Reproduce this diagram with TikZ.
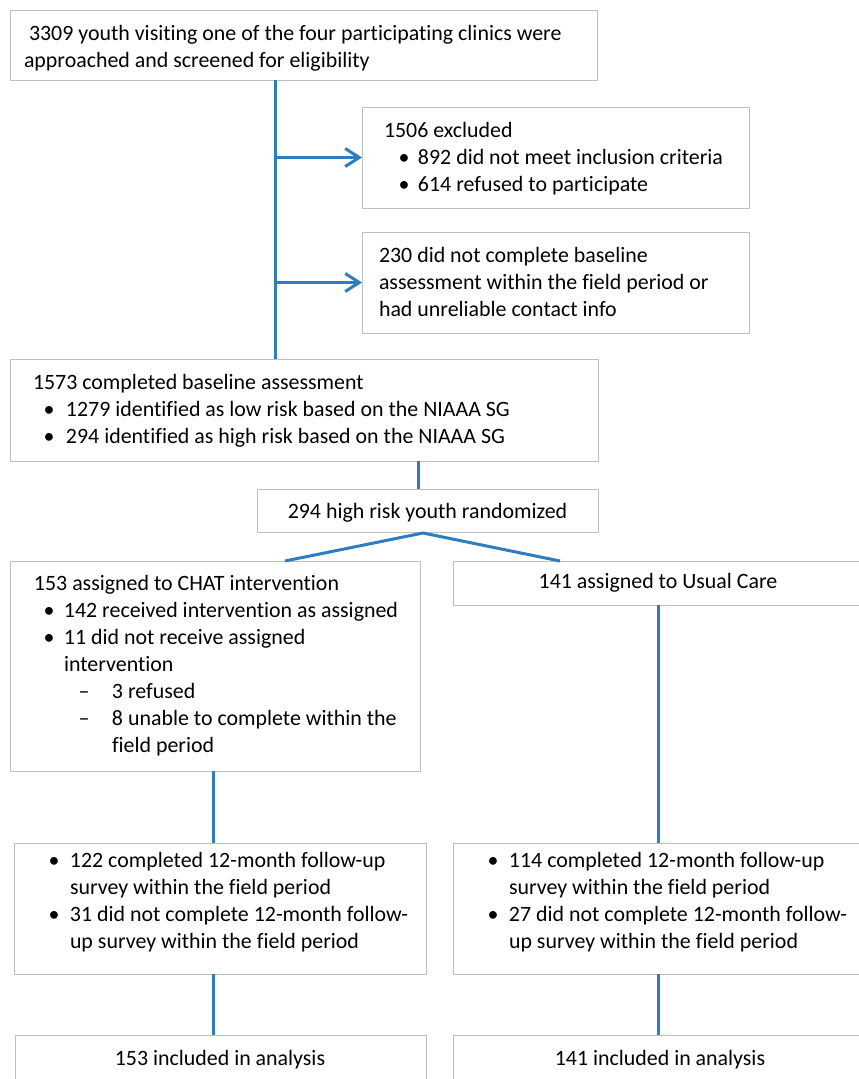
\documentclass[tikz,border=0pt]{standalone}
\usepackage{fontspec}
\setmainfont{Carlito}[Ligatures=NoCommon]
\usetikzlibrary{arrows.meta}
\definecolor{conncol}{RGB}{46,125,193}
\definecolor{boxcol}{RGB}{191,191,191}
\newcommand\fz{\fontsize{21.9}{27}\selectfont}
% bullet line: #1 bullet centre offset, #2 text offset, #3 text
\newcommand\bitem[3]{\hspace*{#1pt}\makebox[0pt]{•}\hspace*{\dimexpr #2pt-#1pt\relax}#3}
\newcommand\ditem[3]{\hspace*{#1pt}\makebox[0pt]{–}\hspace*{\dimexpr #2pt-#1pt\relax}#3}
\newcommand\indt[2]{\hspace*{#1pt}#2}
\begin{document}
\begin{tikzpicture}[x=1pt,y=-1pt,
  box/.style={draw=boxcol, line width=1pt, fill=white, inner sep=0pt, outer sep=0pt, anchor=north west},
  txt/.style={inner sep=0pt, outer sep=0pt, anchor=north west, align=left, font=\fz},
  ctxt/.style={inner sep=0pt, outer sep=0pt, anchor=base, font=\fz},
  conn/.style={draw=conncol, line width=3pt},
  arr/.style={conn, -{Straight Barb[length=14pt,width=18pt,line width=3pt]}}]
\useasboundingbox (0,0) rectangle (859,1079);
\clip (0,0) rectangle (859,1079);
\fill[white] (0,0) rectangle (859,1079);

% boxes
\node[box, minimum width=587pt, minimum height=70pt]  (b1)  at (10,10)   {};
\node[box, minimum width=387pt, minimum height=101pt] (b2)  at (362,107) {};
\node[box, minimum width=387pt, minimum height=101pt] (b3)  at (362,232) {};
\node[box, minimum width=588pt, minimum height=102pt] (b4)  at (10,359)  {};
\node[box, minimum width=341pt, minimum height=43pt]  (b5)  at (257,489) {};
\node[box, minimum width=410pt, minimum height=210pt] (b6)  at (10,561)  {};
\node[box, minimum width=414pt, minimum height=44pt]  (b7)  at (453,561) {};
\node[box, minimum width=412pt, minimum height=131pt] (b8)  at (14,843)  {};
\node[box, minimum width=414pt, minimum height=131pt] (b9)  at (453,843) {};
\node[box, minimum width=411pt, minimum height=70pt]  (b10) at (15,1035) {};
\node[box, minimum width=414pt, minimum height=70pt]  (b11) at (453,1035) {};

% texts
\node[txt] (t1) at (24,21.1) {\strut\hspace*{5pt}3309 youth visiting one of the four participating clinics were\\
  \strut approached and screened for eligibility};
\node[txt] (t2) at (384,118.1) {\strut 1506 excluded\\
  \strut\bitem{20}{34}{892 did not meet inclusion criteria}\\
  \strut\bitem{20}{34}{614 refused to participate}};
\node[txt] (t3) at (379,243.1) {\strut 230 did not complete baseline\\
  \strut assessment within the field period or\\
  \strut had unreliable contact info};
\node[txt] (t4) at (33,370.1) {\strut 1573 completed baseline assessment\\
  \strut\bitem{16}{33}{1279 identified as low risk based on the NIAAA SG}\\
  \strut\bitem{16}{33}{294 identified as high risk based on the NIAAA SG}};
\node[ctxt] (t5) at (427.5,518) {294 high risk youth randomized};
\node[txt] (t6) at (34,571.1) {\strut 153 assigned to CHAT intervention\\
  \strut\bitem{15}{30}{142 received intervention as assigned}\\
  \strut\bitem{15}{30}{11 did not receive assigned}\\
  \strut\indt{30}{intervention}\\
  \strut\ditem{50}{78}{3 refused}\\
  \strut\ditem{50}{78}{8 unable to complete within the}\\
  \strut\indt{78}{field period}};
\node[ctxt] (t7) at (658,588) {141 assigned to Usual Care};
\node[txt] (t8) at (40,848.1) {\strut\bitem{14}{30}{122 completed 12-month follow-up}\\
  \strut\indt{30}{survey within the field period}\\
  \strut\bitem{14}{30}{31 did not complete 12-month follow-}\\
  \strut\indt{30}{up survey within the field period}};
\node[ctxt] (t10) at (220,1065) {153 included in analysis};
\node[txt] (t9) at (479,848.1) {\strut\bitem{14}{30}{114 completed 12-month follow-up}\\
  \strut\indt{30}{survey within the field period}\\
  \strut\bitem{14}{30}{27 did not complete 12-month follow-}\\
  \strut\indt{30}{up survey within the field period}};
\node[ctxt] (t11) at (660,1065) {141 included in analysis};

% connector helpers
\coordinate (tr) at (275,0);
\coordinate (c2) at (418,0);
\coordinate (cl) at (213,0);
\coordinate (cr) at (658,0);
\coordinate (s6) at (285,561);
\coordinate (s7) at (560,561);
\coordinate (sp) at (423,533);

% connectors
\draw[conn] (tr |- b1.south) -- (tr |- b4.north);
\draw[arr] (tr |- b2.west) -- (b2.west);
\draw[arr] (tr |- b3.west) -- (b3.west);
\draw[conn] (c2 |- b4.south) -- (c2 |- b5.north);
\draw[conn] (s6) -- (sp) -- (s7);
\draw[conn] (cl |- b6.south) -- (cl |- b8.north);
\draw[conn] (cl |- b8.south) -- (cl |- b10.north);
\draw[conn] (cr |- b7.south) -- (cr |- b9.north);
\draw[conn] (cr |- b9.south) -- (cr |- b11.north);
\end{tikzpicture}
\end{document}
